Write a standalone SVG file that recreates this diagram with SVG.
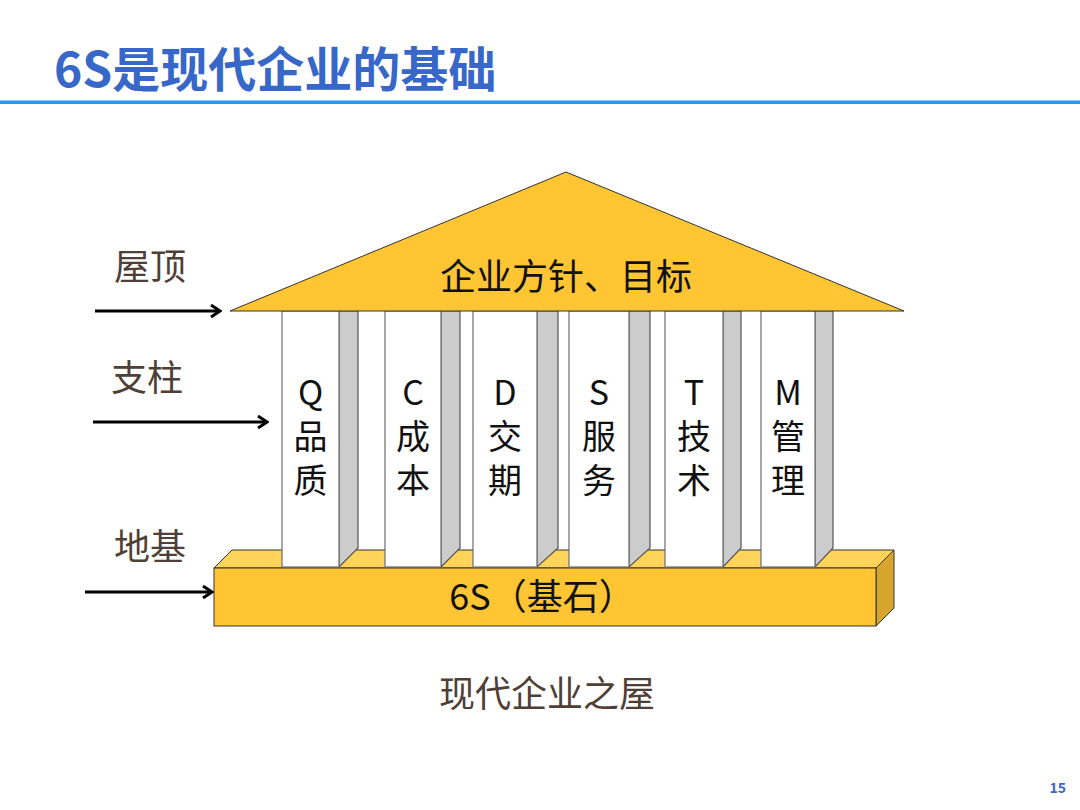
<svg xmlns="http://www.w3.org/2000/svg" width="1080" height="810" viewBox="0 0 1080 810">
<style>
text{font-family:"Noto Sans CJK SC","Noto Sans",sans-serif}
.title{font-size:48px;font-weight:700;fill:#3767C8}
.lbl{font-size:36px;fill:#4F3F36}
.pt{font-size:34px;fill:#111;text-anchor:middle}
.front{fill:#FFFFFF;stroke:#6E6E6E;stroke-width:1.2}
.side{fill:#CCCCCC;stroke:#555;stroke-width:1.2}
.conn{stroke:#000;stroke-width:3;fill:none;marker-end:url(#ah)}
</style>
<defs>
<marker id="ah" viewBox="0 0 14 14" refX="12" refY="7" markerWidth="14" markerHeight="14" markerUnits="userSpaceOnUse" orient="auto">
<polyline points="3,1 12,7 3,13" fill="none" stroke="#000" stroke-width="3" stroke-linejoin="miter"/>
</marker>
</defs>
<rect width="1080" height="810" fill="#fff"/>
<g id="header">
<text class="title" x="54" y="87">6S是现代企业的基础</text>
<rect x="0" y="100.5" width="1080" height="3.5" fill="#1E9BF0"/>
</g>
<g id="base">
<polygon points="214,568 232,550 894,550 876,568" fill="#FFD458" stroke="#333" stroke-width="1"/>
<polygon points="876,568 894,550 894,608 876,626" fill="#D7A52C" stroke="#333" stroke-width="1"/>
<rect x="214" y="568" width="662" height="58" fill="#FFC533" stroke="#333" stroke-width="1"/>
<text x="542" y="610" font-size="36" fill="#111" text-anchor="middle">6S（基石）</text>
</g>
<g id="pillar-q">
<polygon class="side" points="339,311 358,311 358,548 339,567"/>
<rect class="front" x="282" y="311" width="57" height="256"/>
<text class="pt" x="310.5" y="405">Q<tspan x="310.5" dy="44">品</tspan><tspan x="310.5" dy="44">质</tspan></text>
</g>
<g id="pillar-c">
<polygon class="side" points="441,311 460,311 460,548 441,567"/>
<rect class="front" x="385" y="311" width="56" height="256"/>
<text class="pt" x="413" y="405">C<tspan x="413" dy="44">成</tspan><tspan x="413" dy="44">本</tspan></text>
</g>
<g id="pillar-d">
<polygon class="side" points="537,311 558,311 558,548 537,567"/>
<rect class="front" x="473" y="311" width="64" height="256"/>
<text class="pt" x="505" y="405">D<tspan x="505" dy="44">交</tspan><tspan x="505" dy="44">期</tspan></text>
</g>
<g id="pillar-s">
<polygon class="side" points="629,311 650,311 650,548 629,567"/>
<rect class="front" x="569" y="311" width="60" height="256"/>
<text class="pt" x="599" y="405">S<tspan x="599" dy="44">服</tspan><tspan x="599" dy="44">务</tspan></text>
</g>
<g id="pillar-t">
<polygon class="side" points="723,311 741,311 741,548 723,567"/>
<rect class="front" x="665" y="311" width="58" height="256"/>
<text class="pt" x="694" y="405">T<tspan x="694" dy="44">技</tspan><tspan x="694" dy="44">术</tspan></text>
</g>
<g id="pillar-m">
<polygon class="side" points="815,311 833,311 833,548 815,567"/>
<rect class="front" x="761" y="311" width="54" height="256"/>
<text class="pt" x="788" y="405">M<tspan x="788" dy="44">管</tspan><tspan x="788" dy="44">理</tspan></text>
</g>
<g id="roof">
<polygon points="566,172 904,311 230,311" fill="#FFC533" stroke="#333" stroke-width="1"/>
<text x="566" y="290" font-size="36" fill="#111" text-anchor="middle">企业方针、目标</text>
</g>
<g id="labels">
<text class="lbl" x="114" y="280">屋顶</text>
<text class="lbl" x="111" y="391">支柱</text>
<text class="lbl" x="114" y="560">地基</text>
<text class="lbl" x="547" y="707" text-anchor="middle">现代企业之屋</text>
<text x="1066" y="793" font-size="14" font-weight="700" fill="#3767C8" text-anchor="end">15</text>
</g>
<g id="connectors">
<line class="conn" x1="95" y1="311" x2="220" y2="311"/>
<line class="conn" x1="93" y1="422" x2="267" y2="422"/>
<line class="conn" x1="85" y1="592" x2="212" y2="592"/>
</g>
</svg>
